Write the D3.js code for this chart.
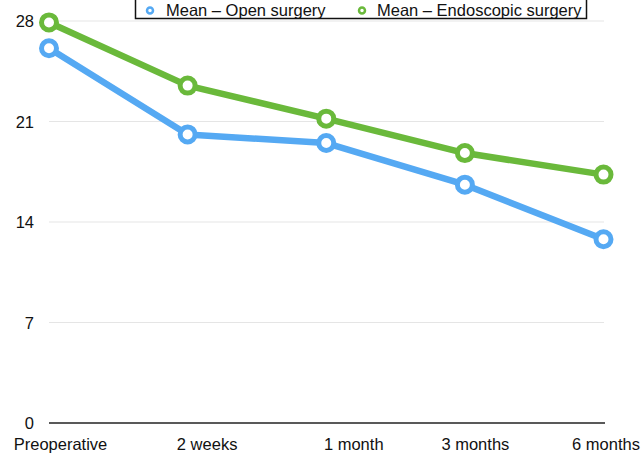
<!DOCTYPE html>
<html>
<head>
<meta charset="utf-8">
<script src="https://cdn.jsdelivr.net/npm/d3@7"></script>
<style>
  html, body { margin: 0; padding: 0; background: #fff; }
  svg { display: block; }
  text { font-family: "Liberation Sans", Arial, Helvetica, sans-serif; }
</style>
</head>
<body>
<svg id="chart" width="641" height="454"></svg>
<script>
const categories = ["Preoperative", "2 weeks", "1 month", "3 months", "6 months"];
const openSurgery = [26.1, 20.1, 19.5, 16.6, 12.8];
const endoscopicSurgery = [27.9, 23.5, 21.2, 18.8, 17.3];
const yTicks = [0, 7, 14, 21, 28];
const seriesNames = ["Mean – Open surgery", "Mean – Endoscopic surgery"];

const W = 641, H = 454;
const svg = d3.select("#chart");
const FONT = 16.5;

const x = d3.scalePoint().domain(categories).range([49, 603.5]).padding(0);
const y = d3.scaleLinear().domain([0, 28]).range([423, 21]);

// gridlines
svg.append("g").selectAll("line")
  .data(yTicks.filter(d => d > 0))
  .join("line")
  .attr("x1", 49).attr("x2", 604)
  .attr("y1", d => y(d)).attr("y2", d => y(d))
  .attr("stroke", "#e5e5e5").attr("stroke-width", 1.2);

// y axis labels
const yAxis = d3.axisLeft(y).tickValues(yTicks).tickSize(0).tickPadding(0).tickFormat(d3.format("d"));
const gy = svg.append("g").attr("transform", "translate(34,0)").call(yAxis);
gy.select(".domain").remove();
gy.selectAll("text").attr("font-size", FONT).attr("fill", "#111")
  .attr("font-family", "Liberation Sans, Arial, sans-serif").attr("dy", "0.36em");

// baseline axis
svg.append("line")
  .attr("x1", 49).attr("x2", 605)
  .attr("y1", y(0)).attr("y2", y(0))
  .attr("stroke", "#222").attr("stroke-width", 1.3);

// x axis labels (offsets reproduce the reference's label placement)
const labelShift = [11, 19, 27, 10, 2];
const xAxis = d3.axisBottom(x).tickSize(0).tickPadding(0);
const gx = svg.append("g").attr("transform", "translate(0,450)").call(xAxis);
gx.select(".domain").remove();
gx.selectAll(".tick text")
  .attr("font-size", FONT).attr("fill", "#111")
  .attr("font-family", "Liberation Sans, Arial, sans-serif")
  .attr("dy", 0)
  .attr("x", (d, i) => labelShift[i]);

// series
const series = [
  { name: seriesNames[0], values: openSurgery, color: "#55a9f3" },
  { name: seriesNames[1], values: endoscopicSurgery, color: "#6ab93b" }
];
const line = d3.line().x((d, i) => x(categories[i])).y(d => y(d));

series.forEach(s => {
  const g = svg.append("g");
  g.append("path")
    .attr("d", line(s.values))
    .attr("fill", "none")
    .attr("stroke", s.color)
    .attr("stroke-width", 6.5)
    .attr("stroke-linejoin", "round");
  g.selectAll("circle")
    .data(s.values)
    .join("circle")
    .attr("cx", (d, i) => x(categories[i]))
    .attr("cy", d => y(d))
    .attr("r", 7.5)
    .attr("fill", "#fff")
    .attr("stroke", s.color)
    .attr("stroke-width", 5);
});

// legend
const lg = svg.append("g");
lg.append("rect")
  .attr("x", 135.5).attr("y", -2).attr("width", 451).attr("height", 20.5)
  .attr("fill", "#fff").attr("stroke", "#111").attr("stroke-width", 1.5);
const legendItems = [
  { name: seriesNames[0], color: series[0].color, mx: 150, tx: 166 },
  { name: seriesNames[1], color: series[1].color, mx: 362, tx: 377 }
];
legendItems.forEach(it => {
  lg.append("circle")
    .attr("cx", it.mx).attr("cy", 10.5).attr("r", 3)
    .attr("fill", "#fff").attr("stroke", it.color).attr("stroke-width", 2.5);
  lg.append("text")
    .attr("x", it.tx).attr("y", 16)
    .attr("font-size", FONT).attr("fill", "#111")
    .text(it.name);
});
</script>
</body>
</html>
